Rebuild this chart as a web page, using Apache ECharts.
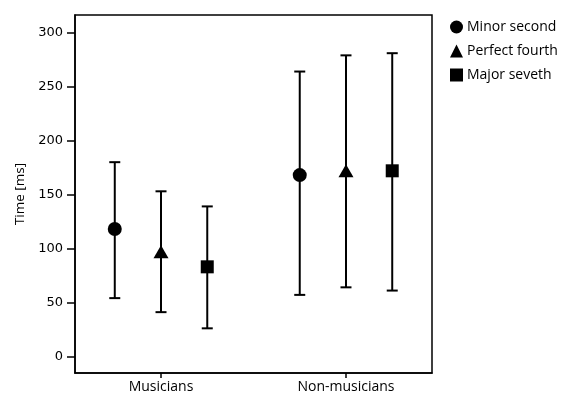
<!DOCTYPE html>
<html>
<head>
<meta charset="utf-8">
<script src="https://cdn.jsdelivr.net/npm/echarts@6/dist/echarts.min.js"></script>
<style>html,body{margin:0;padding:0;background:#fff}#c{width:568px;height:397px}</style>
</head>
<body>
<div id="c"></div>
<script>
var categories = ['Musicians', 'Non-musicians'];
var intervals = ['Minor second', 'Perfect fourth', 'Major seveth'];
var minorMean = [118, 168];
var minorLow = [54, 57];
var minorHigh = [180, 264];
var fourthMean = [97, 172];
var fourthLow = [41, 64];
var fourthHigh = [153, 279];
var seventhMean = [83, 172];
var seventhLow = [26, 61];
var seventhHigh = [139, 281];
var yTicks = [0, 50, 100, 150, 200, 250, 300];

var groupPos = [1, 2];
var offsets = [-0.25, 0, 0.25];
var symbols = ['circle', 'triangle', 'rect'];
var symbolSizes = [14, [15, 13], 13];
var means = [minorMean, fourthMean, seventhMean];
var lows = [minorLow, fourthLow, seventhLow];
var highs = [minorHigh, fourthHigh, seventhHigh];

var chart = echarts.init(document.getElementById('c'));
var series = [];
intervals.forEach(function (name, k) {
  var errData = categories.map(function (c, i) {
    return [groupPos[i] + offsets[k], lows[k][i], highs[k][i]];
  });
  series.push({
    type: 'custom',
    name: name + ' err',
    silent: true,
    z: 1,
    data: errData,
    encode: { x: 0, y: [1, 2] },
    renderItem: function (params, api) {
      var x = api.value(0);
      var lo = api.coord([x, api.value(1)]);
      var hi = api.coord([x, api.value(2)]);
      var cw = 5.5;
      var st = { stroke: '#000', lineWidth: 2 };
      return {
        type: 'group',
        children: [
          { type: 'line', shape: { x1: lo[0], y1: lo[1], x2: hi[0], y2: hi[1] }, style: st },
          { type: 'line', shape: { x1: lo[0] - cw, y1: lo[1], x2: lo[0] + cw, y2: lo[1] }, style: st },
          { type: 'line', shape: { x1: hi[0] - cw, y1: hi[1], x2: hi[0] + cw, y2: hi[1] }, style: st }
        ]
      };
    }
  });
  series.push({
    type: 'scatter',
    name: name,
    z: 3,
    symbol: symbols[k],
    symbolSize: symbolSizes[k],
    itemStyle: { color: '#000', opacity: 1 },
    data: categories.map(function (c, i) { return [groupPos[i] + offsets[k], means[k][i]]; })
  });
});

chart.setOption({
  animation: false,
  backgroundColor: '#fff',
  textStyle: { fontFamily: 'Open Sans', color: '#000' },
  grid: { left: 75, top: 15, width: 357, height: 358, show: true, borderColor: '#000', borderWidth: 1.5, backgroundColor: 'transparent' },
  legend: {
    orient: 'vertical',
    left: 445,
    top: 15,
    itemWidth: 13,
    itemHeight: 13,
    itemGap: 10,
    data: intervals.map(function (n, k) { return { name: n, icon: symbols[k] }; }),
    textStyle: { fontFamily: 'Open Sans', fontSize: 14, color: '#000', padding: [0, 0, 0, -1] }
  },
  xAxis: {
    type: 'value',
    min: 0.535,
    max: 2.465,
    splitLine: { show: false },
    axisLine: { show: true, onZero: false, lineStyle: { color: '#000', width: 1.5 } },
    axisTick: { show: true, length: 5, customValues: groupPos, lineStyle: { color: '#000', width: 1.5 } },
    axisLabel: {
      customValues: groupPos,
      margin: 7,
      fontFamily: 'Open Sans',
      fontSize: 14,
      color: '#000',
      formatter: function (v) { return categories[Math.round(v) - 1]; }
    }
  },
  yAxis: {
    type: 'value',
    min: -15.4,
    max: 316.4,
    name: 'Time [ms]',
    nameLocation: 'middle',
    nameGap: 48,
    nameTextStyle: { fontFamily: 'Open Sans', fontSize: 13.5, color: '#000' },
    splitLine: { show: false },
    axisLine: { show: true, onZero: false, lineStyle: { color: '#000', width: 1.5 } },
    axisTick: { show: true, length: 8, customValues: yTicks, lineStyle: { color: '#000', width: 1.5 } },
    axisLabel: {
      customValues: yTicks,
      margin: 12,
      fontFamily: 'DejaVu Sans',
      fontSize: 13,
      color: '#000'
    }
  },
  series: series
});
</script>
</body>
</html>
